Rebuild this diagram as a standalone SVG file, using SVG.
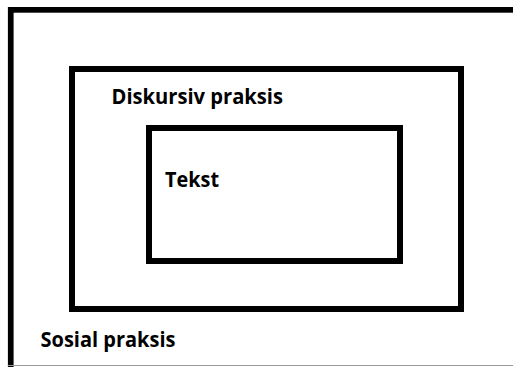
<svg xmlns="http://www.w3.org/2000/svg" width="513" height="367" viewBox="0 0 513 367">
  <style>
    .frame { fill: none; stroke: #000; }
    .label { font-family: "Open Sans", "Liberation Sans", sans-serif; font-weight: bold; font-size: 21px; fill: #000; }
  </style>
  <rect width="513" height="367" fill="#fff"/>
  <g id="sosial-praksis">
    <rect class="frame" x="10.75" y="9.85" width="520" height="370" stroke-width="5.7"/>
    <line x1="8" y1="365.5" x2="513" y2="365.5" stroke="#999" stroke-width="1"/>
    <text class="label" x="40.5" y="346.5" textLength="135" lengthAdjust="spacingAndGlyphs">Sosial praksis</text>
  </g>
  <g id="diskursiv-praksis">
    <rect class="frame" x="72" y="69" width="389" height="240" stroke-width="6"/>
    <text class="label" x="111.5" y="103.5" textLength="171.5" lengthAdjust="spacingAndGlyphs">Diskursiv praksis</text>
  </g>
  <g id="tekst">
    <rect class="frame" x="149" y="128" width="251" height="133" stroke-width="6"/>
    <text class="label" x="165" y="187" textLength="54" lengthAdjust="spacingAndGlyphs">Tekst</text>
  </g>
</svg>
